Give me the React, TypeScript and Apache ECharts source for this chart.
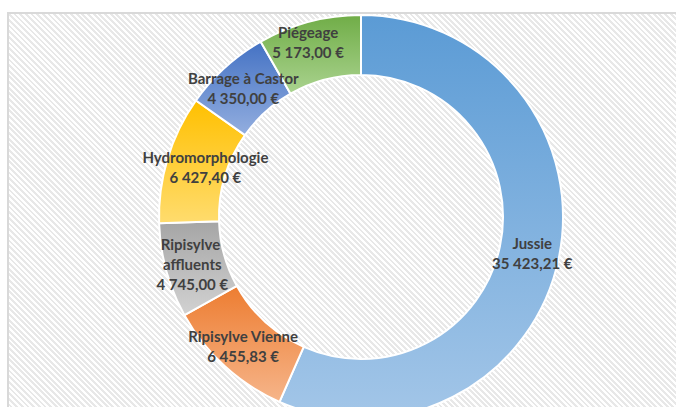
import React, { useEffect, useRef } from "react";
import * as echarts from "echarts";

const categories = [
  "Jussie",
  "Ripisylve Vienne",
  "Ripisylve affluents",
  "Hydromorphologie",
  "Barrage à Castor",
  "Piégeage",
];
const values = [35423.21, 6455.83, 4745.0, 6427.4, 4350.0, 5173.0];
const topColors = ["#5B9BD5", "#ED7D31", "#A5A5A5", "#FFC000", "#4472C4", "#70AD47"];
const bottomColors = ["#A3C6E8", "#F6B58A", "#D2D2D2", "#FFDC6E", "#93AEDF", "#AAD38F"];

function fmtEuro(v: number): string {
  const [intPart, dec] = v.toFixed(2).split(".");
  const withSpaces = intPart.replace(/\B(?=(\d{3})+(?!\d))/g, " ");
  return `${withSpaces},${dec} €`;
}

const labelOverrides: Record<string, any> = {
  "Ripisylve affluents": { width: 80, overflow: "break" },
  Hydromorphologie: { offset: [12, 0] },
  "Piégeage": { offset: [-8, -6] },
};

export default function App() {
  const ref = useRef<HTMLDivElement>(null);
  useEffect(() => {
    if (!ref.current) return;
    const chart = echarts.init(ref.current, undefined, { renderer: "svg" });
    chart.setOption({
      animation: false,
      backgroundColor: "transparent",
      series: [
        {
          type: "pie",
          center: [361, 217],
          radius: [142, 202],
          startAngle: 90,
          clockwise: true,
          avoidLabelOverlap: false,
          labelLayout: { hideOverlap: false },
          itemStyle: { borderColor: "#ffffff", borderWidth: 2 },
          label: {
            show: true,
            position: "inside",
            color: "#404040",
            fontFamily: "Lato",
            fontWeight: "bold",
            fontSize: 15,
            lineHeight: 20,
            align: "center",
            formatter: (p: any) => `${p.name}\n${fmtEuro(p.value)}`,
          },
          labelLine: { show: false },
          emphasis: { disabled: true },
          data: categories.map((name, i) => ({
            name,
            value: values[i],
            itemStyle: {
              color: new echarts.graphic.LinearGradient(0, 0, 0, 1, [
                { offset: 0, color: topColors[i] },
                { offset: 1, color: bottomColors[i] },
              ]),
            },
            label: labelOverrides[name],
          })),
        },
      ],
    });
    return () => chart.dispose();
  }, []);

  return (
    <div
      style={{
        position: "fixed",
        left: 0,
        top: 0,
        width: 676,
        height: 407,
        background: "#ffffff",
        overflow: "hidden",
      }}
    >
      <div
        style={{
          position: "absolute",
          left: 7,
          top: 12,
          width: 720,
          height: 440,
          border: "2px solid #d9d9d9",
          background:
            "repeating-linear-gradient(45deg, #ffffff 0px, #ffffff 2px, #e8e8e8 2px, #e8e8e8 4px)",
        }}
      />
      <div
        ref={ref}
        style={{ position: "absolute", left: 0, top: 0, width: 676, height: 407 }}
      />
    </div>
  );
}
